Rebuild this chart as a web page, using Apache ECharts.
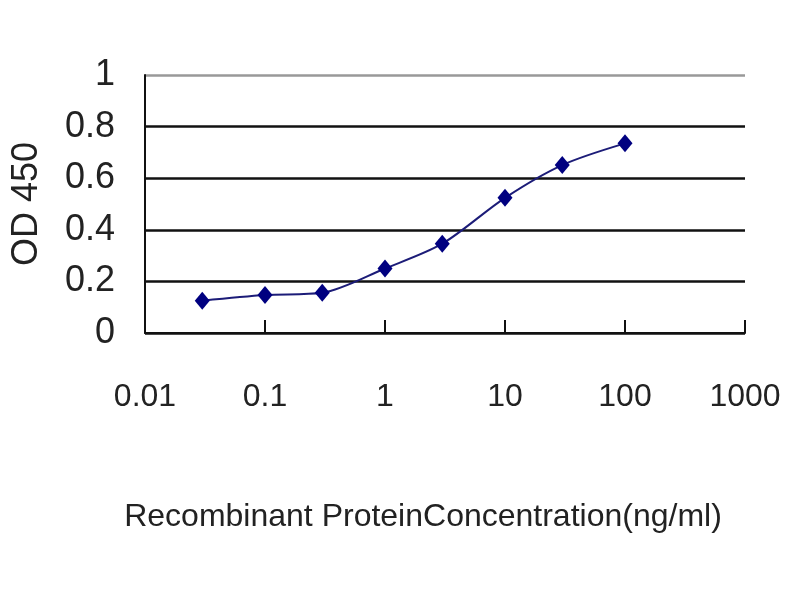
<!DOCTYPE html>
<html>
<head>
<meta charset="utf-8">
<style>
  html, body { margin: 0; padding: 0; background: #fff; }
  #main { width: 800px; height: 600px; }
</style>
<script src="https://cdn.jsdelivr.net/npm/echarts@6/dist/echarts.min.js"></script>
</head>
<body>
<div id="main"></div>
<script>
// concentration (ng/ml) and measured OD 450
var concentration = [0.03, 0.1, 0.3, 1, 3, 10, 30, 100];
var od450 = [0.125, 0.147, 0.156, 0.25, 0.346, 0.524, 0.651, 0.735];
var yTicks = [0, 0.2, 0.4, 0.6, 0.8, 1];

var chart = echarts.init(document.getElementById('main'));

var points = concentration.map(function (c, i) {
  return [c, od450[i]];
});

var option = {
  backgroundColor: '#fff',
  animation: false,
  grid: {
    left: 145,
    right: 55,
    top: 75,
    bottom: 267
  },
  xAxis: {
    type: 'log',
    logBase: 10,
    min: 0.01,
    max: 1000,
    name: 'Recombinant ProteinConcentration(ng/ml)',
    nameLocation: 'middle',
    nameGap: 168,
    nameTextStyle: {
      fontFamily: 'Liberation Sans',
      fontSize: 32,
      color: '#222',
      padding: [0, 44, 0, 0]
    },
    axisLine: { lineStyle: { color: '#111', width: 2 } },
    axisTick: { inside: true, length: 13, lineStyle: { color: '#111', width: 2 } },
    splitLine: { show: false },
    minorTick: { show: false },
    axisLabel: {
      margin: 48,
      fontFamily: 'Liberation Sans',
      fontSize: 32,
      color: '#222',
      formatter: function (v) {
        return String(v);
      }
    }
  },
  yAxis: {
    type: 'value',
    min: yTicks[0],
    max: yTicks[yTicks.length - 1],
    interval: 0.2,
    name: 'OD 450',
    nameLocation: 'middle',
    nameGap: 100,
    nameTextStyle: {
      fontFamily: 'Liberation Sans',
      fontSize: 36,
      color: '#222'
    },
    axisLine: { show: true, lineStyle: { color: '#111', width: 2 } },
    axisTick: { show: false },
    splitLine: {
      lineStyle: {
        color: ['#111', '#111', '#111', '#111', '#111', '#999'],
        width: 2.5
      }
    },
    axisLabel: {
      margin: 30,
      fontFamily: 'Liberation Sans',
      fontSize: 36,
      color: '#222',
      formatter: function (v) {
        return String(Math.round(v * 10) / 10);
      }
    }
  },
  series: [
    {
      type: 'line',
      data: points,
      symbol: 'diamond',
      symbolSize: [15, 18],
      smooth: 0.3,
      lineStyle: { color: '#1c1c78', width: 2 },
      itemStyle: { color: '#000080' }
    }
  ]
};

chart.setOption(option);
</script>
</body>
</html>
